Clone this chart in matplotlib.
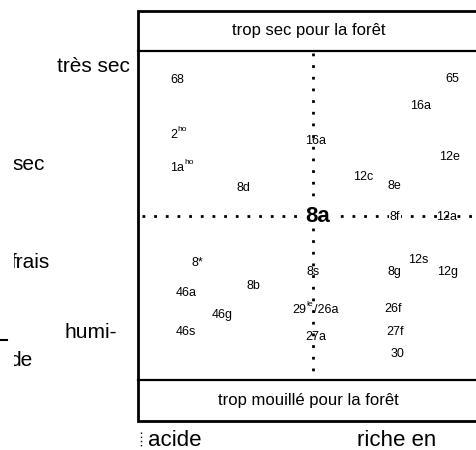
import matplotlib
matplotlib.use("Agg")
import matplotlib.pyplot as plt
from matplotlib.transforms import Bbox

plt.rcParams['font.family'] = ['Liberation Sans', 'DejaVu Sans']

W, H = 477, 450

# site labels (label, x, y) in pixel-like chart coordinates
labels = ["68", "65", "16a", "16a", "12e", "12c", "8e", "8d",
          "8f", "12a", "12s", "8g", "12g", "8s", "8*", "46a", "8b",
          "46g", "46s", "26f", "27f", "30", "27a"]
label_x = [177, 452, 421, 316, 450, 363, 394, 243,
           395, 447, 418, 394, 448, 313, 197, 186, 253,
           222, 186, 393, 395, 398, 316]
label_y = [80, 79, 106, 141, 157, 177, 186, 188,
           217, 217, 260, 272, 272, 272, 263, 293, 286,
           315, 332, 309, 332, 354, 337]

sup_labels = ["2", "1a", "29"]
sup_text = ["ho", "ho", "le"]
sup_x = [174, 177, 299]
sup_y = [135, 168, 310]

center_label = "8a"
center_x, center_y = 318, 216

left_labels = ["très sec", "humi-"]
left_x = [130, 91]
left_y = [66, 333]
left_ha = ['right', 'center']
clipped_labels = ["sec", "frais", "de"]
clipped_x = [12, 11, 9]
clipped_y = [164, 263, 360]

top_band = "trop sec pour la forêt"
bottom_band = "trop mouillé pour la forêt"
bottom_axis = ["acide", "riche en"]
bottom_axis_x = [148, 357]

fig = plt.figure(figsize=(W / 100, H / 100), dpi=100)
ax = fig.add_axes([0, 0, 1, 1])
ax.set_xlim(0, W)
ax.set_ylim(H, 0)
ax.axis('off')

# box
box_l, box_r, box_t, box_b = 138, 479, 11, 421
sep_t, sep_b = 51, 380
ax.plot([box_r, box_l, box_l, box_r], [box_t, box_t, box_b, box_b],
        color='black', lw=2.0, solid_joinstyle='miter')
ax.plot([box_l, box_r], [sep_t, sep_t], color='black', lw=1.6)
ax.plot([box_l, box_r], [sep_b, sep_b], color='black', lw=1.6)

# dotted cross lines
dot = dict(color='black', lw=2.0, linestyle=(0, (1, 3.2)), dash_capstyle='butt')
ax.plot([313, 313], [53, 379], **dot)
ax.plot([142, 477], [216, 216], **dot)

fs = 9
for t, x, y in zip(labels, label_x, label_y):
    kw = {}
    if t in ("8f",):
        kw['bbox'] = dict(facecolor='white', edgecolor='none', pad=0.5)
    ax.text(x, y, t, fontsize=fs, ha='center', va='center', **kw)
for t, s, x, y in zip(sup_labels, sup_text, sup_x, sup_y):
    tt = ax.text(x, y, t, fontsize=fs, ha='center', va='center')
    ax.annotate(s, xy=(1, 1), xycoords=tt, fontsize=6, ha='left', va='top',
                xytext=(0, 2), textcoords='offset points')
    if t == "29":
        ax.annotate("/26a", xy=(1, 0.5), xycoords=tt, fontsize=fs, ha='left',
                    va='center', xytext=(5.5, 0), textcoords='offset points')

ax.text(center_x, center_y, center_label, fontsize=16, fontweight='bold',
        ha='center', va='center',
        bbox=dict(facecolor='white', edgecolor='none', pad=1))

for t, x, y, ha in zip(left_labels, left_x, left_y, left_ha):
    ax.text(x, y, t, fontsize=15, ha=ha, va='center')
clip = Bbox.from_extents(14, 0, W, H)
for t, x, y in zip(clipped_labels, clipped_x, clipped_y):
    tx = ax.text(x, y, t, fontsize=15, ha='left', va='center')
    tx.set_clip_box(clip)
    tx.set_clip_on(True)

ax.plot([0, 7], [340, 340], color='black', lw=1.5)
ax.plot([141, 141], [432, 448], color='black', lw=1.0, linestyle=(0, (1, 2)))

ax.text((box_l + box_r) / 2, (box_t + sep_t) / 2, top_band, fontsize=12,
        ha='center', va='center')
ax.text((box_l + box_r) / 2, (sep_b + box_b) / 2, bottom_band, fontsize=12,
        ha='center', va='center')
for t, x in zip(bottom_axis, bottom_axis_x):
    ax.text(x, 440, t, fontsize=16, ha='left', va='center')

fig.savefig("out.png", dpi=100)
